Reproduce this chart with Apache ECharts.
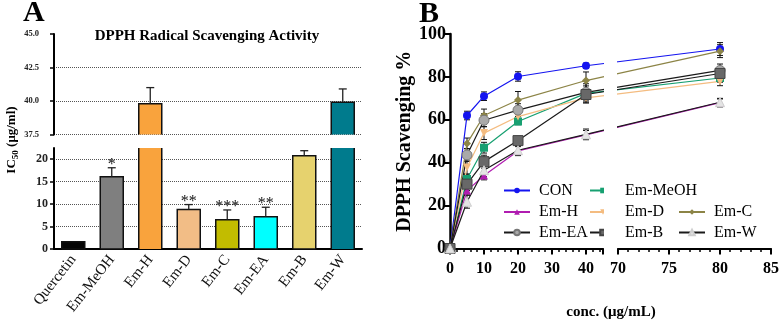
<!DOCTYPE html>
<html>
<head>
<meta charset="utf-8">
<script src="https://cdn.jsdelivr.net/npm/echarts@6/dist/echarts.min.js"></script>
<style>
  html, body { margin: 0; padding: 0; background: #fff; }
  #chart { width: 782px; height: 325px; }
</style>
</head>
<body>
<div id="chart"></div>
<script>
// ---- panel A : IC50 bars ----
const extracts = ['Quercetin', 'Em-MeOH', 'Em-H', 'Em-D', 'Em-C', 'Em-EA', 'Em-B', 'Em-W'];
const ic50 = [1.6, 16.1, 39.8, 8.8, 6.5, 7.2, 20.8, 39.9];
const ic50Sd = [0, 2.0, 1.2, 1.1, 2.2, 2.1, 1.1, 1.0];
const sigMarks = ['', '*', '', '**', '***', '**', '', ''];
const barColors = ['#060606', '#7f7f7f', '#f9a33d', '#f2bd86', '#c2bc00', '#00ffff', '#e6d26e', '#007b8d'];
const lowRange = [0, 22.5];
const highRange = [37.5, 45];

// ---- panel B : scavenging curves ----
const conc = [0, 5, 10, 20, 40, 80];
const concSeg1 = [0, 45];
const concSeg2 = [70, 85];
const curveNames = ['CON', 'Em-MeOH', 'Em-H', 'Em-D', 'Em-C', 'Em-EA', 'Em-B', 'Em-W'];
const con    = [0, 62.0, 71.0, 80.2, 85.2, 93.0];
const emMeOH = [0, 32.4, 47.0, 59.2, 72.3, 79.5];
const emH    = [0, 27.0, 34.0, 45.5, 53.0, 68.0];
const emD    = [0, 37.8, 53.8, 61.5, 70.2, 77.9];
const emC    = [0, 49.0, 62.0, 69.2, 78.3, 92.0];
const emEA   = [0, 43.6, 59.8, 64.5, 72.8, 83.0];
const emB    = [0, 30.0, 40.5, 50.3, 71.8, 81.6];
const emW    = [0, 21.8, 36.5, 45.8, 53.2, 68.2];
const conSd    = [0, 2.0, 2.0, 2.2, 1.2, 3.0];
const emMeOHSd = [0, 2.0, 2.5, 1.5, 2.0, 2.0];
const emHSd    = [0, 2.0, 2.0, 2.0, 2.0, 2.0];
const emDSd    = [0, 3.0, 3.0, 2.0, 2.0, 2.0];
const emCSd    = [0, 2.5, 3.0, 4.0, 4.0, 3.0];
const emEASd   = [0, 3.0, 3.0, 3.0, 4.0, 3.0];
const emBSd    = [0, 3.0, 3.0, 2.0, 4.0, 3.0];
const emWSd    = [0, 3.0, 3.0, 2.5, 2.5, 1.5];
const curveVals = [con, emMeOH, emH, emD, emC, emEA, emB, emW];
const curveSds = [conSd, emMeOHSd, emHSd, emDSd, emCSd, emEASd, emBSd, emWSd];

const FONT = 'Liberation Serif';
const black = '#000';

// broken x axis of panel B: two segments drawn side by side
const B_LEFT = 450, B_TOP = 34, B_H = 214.5;
const W1 = 153, GAP = 15, W2 = 153;
function brk(c) {
  if (c <= concSeg1[1]) return (c - concSeg1[0]) * W1 / (concSeg1[1] - concSeg1[0]);
  return W1 + GAP + (c - concSeg2[0]) * W2 / (concSeg2[1] - concSeg2[0]);
}

const curveStyle = [
  { color: '#1414f0', symbol: 'circle', size: 8 },
  { color: '#17a071', symbol: 'rect', size: 8 },
  { color: '#b01cb0', symbol: 'triangle', size: 8 },
  { color: '#f4bc80', symbol: 'triangle', size: 8, rotate: 180 },
  { color: '#8c8446', symbol: 'diamond', size: 8 },
  { color: '#1a1a1a', symbol: 'circle', size: 10, fill: '#a9a9a9', border: '#777' },
  { color: '#1a1a1a', symbol: 'rect', size: 10, fill: '#686868', border: '#444' },
  { color: '#1a1a1a', symbol: 'triangle', size: 9, fill: '#e4e4e4', border: '#cfcfcf' }
];

const chart = echarts.init(document.getElementById('chart'));
const BAR_W = 23;

// bar outline: open on the side where the axis is broken
function barEdge(range) {
  return function (params, api) {
    const i = api.value(0);
    const v = ic50[i];
    if (v < range[0]) return;
    const cutTop = v > range[1];
    const cutBottom = range[0] > 0;
    const topPt = api.coord([i, Math.min(v, range[1])]);
    const basePt = api.coord([i, range[0]]);
    const x0 = topPt[0] - BAR_W / 2, x1 = topPt[0] + BAR_W / 2;
    const st = { stroke: '#111', lineWidth: 1.5, fill: null };
    if (cutTop) {
      return { type: 'group', children: [
        { type: 'line', shape: { x1: x0, y1: basePt[1], x2: x0, y2: topPt[1] }, style: st },
        { type: 'line', shape: { x1: x1, y1: basePt[1], x2: x1, y2: topPt[1] }, style: st }
      ] };
    }
    const pts = [[x0, basePt[1]], [x0, topPt[1]], [x1, topPt[1]], [x1, basePt[1]]];
    if (!cutBottom) pts.push([x0, basePt[1]]);
    return { type: 'polyline', shape: { points: pts }, style: st };
  };
}

function barErr(range) {
  return function (params, api) {
    const i = api.value(0);
    const v = ic50[i], sd = ic50Sd[i];
    if (v < range[0] || v > range[1]) return;
    const base = api.coord([i, v]);
    const top = api.coord([i, v + sd]);
    const kids = [];
    if (sd > 0) {
      kids.push({ type: 'line', shape: { x1: base[0], y1: base[1], x2: top[0], y2: top[1] }, style: { stroke: '#222', lineWidth: 1.3 } });
      kids.push({ type: 'line', shape: { x1: top[0] - 4, y1: top[1], x2: top[0] + 4, y2: top[1] }, style: { stroke: '#222', lineWidth: 1.3 } });
    }
    if (sigMarks[i]) {
      kids.push({ type: 'text', x: top[0], y: top[1] - 3,
        style: { text: sigMarks[i], align: 'center', verticalAlign: 'middle', fill: '#111', fontSize: 16, fontFamily: FONT } });
    }
    return { type: 'group', children: kids };
  };
}

function curveErr(params, api) {
  const x = api.value(0), y = api.value(1), sd = api.value(2);
  if (!sd) return;
  const hi = api.coord([x, y + sd]);
  const lo = api.coord([x, y - sd]);
  const st = { stroke: '#111', lineWidth: 1 };
  return { type: 'group', children: [
    { type: 'line', shape: { x1: hi[0], y1: hi[1], x2: lo[0], y2: lo[1] }, style: st },
    { type: 'line', shape: { x1: hi[0] - 3, y1: hi[1], x2: hi[0] + 3, y2: hi[1] }, style: st },
    { type: 'line', shape: { x1: lo[0] - 3, y1: lo[1], x2: lo[0] + 3, y2: lo[1] }, style: st }
  ] };
}

const errData = [];
curveVals.forEach((vals, s) => {
  vals.forEach((v, k) => errData.push([brk(conc[k]), v, curveSds[s][k]]));
});

const legendSlots = [
  ['CON', 498, 186.5], ['Em-MeOH', 584, 186.5],
  ['Em-H', 498, 208], ['Em-D', 584, 208], ['Em-C', 673, 208],
  ['Em-EA', 498, 228.5], ['Em-B', 584, 228.5], ['Em-W', 673, 228.5]
];

const option = {
  animation: false,
  backgroundColor: '#fff',
  textStyle: { fontFamily: FONT },
  grid: [
    { left: 54, top: 34, width: 308, height: 100.5 },
    { left: 54, top: 148, width: 308, height: 101 },
    { left: B_LEFT, top: B_TOP, width: W1 + GAP + W2, height: B_H },
    { left: B_LEFT, top: B_TOP, width: W1, height: B_H },
    { left: B_LEFT + W1 + GAP, top: B_TOP, width: W2, height: B_H }
  ],
  xAxis: [
    { type: 'category', gridIndex: 0, data: extracts, show: false },
    { type: 'category', gridIndex: 1, data: extracts,
      axisLine: { lineStyle: { color: black, width: 2 } },
      axisTick: { alignWithLabel: true, length: 4, lineStyle: { color: black, width: 1.5 } },
      axisLabel: { rotate: 52, margin: 8, color: '#111', fontSize: 15, fontFamily: FONT } },
    { type: 'value', gridIndex: 2, min: 0, max: W1 + GAP + W2, show: false },
    { type: 'value', gridIndex: 3, min: concSeg1[0], max: concSeg1[1], interval: 10,
      axisLine: { lineStyle: { color: black, width: 2 } },
      axisTick: { length: 6, lineStyle: { color: black, width: 2 } },
      minorTick: { show: true, splitNumber: 5, length: 3.5, lineStyle: { color: black, width: 1.5 } },
      splitLine: { show: false },
      axisLabel: { showMaxLabel: false, margin: 12, color: black, fontSize: 16, fontWeight: 'bold', fontFamily: FONT } },
    { type: 'value', gridIndex: 4, min: concSeg2[0], max: concSeg2[1], interval: 5,
      axisLine: { lineStyle: { color: black, width: 2 } },
      axisTick: { length: 6, lineStyle: { color: black, width: 2 } },
      minorTick: { show: true, splitNumber: 5, length: 3.5, lineStyle: { color: black, width: 1.5 } },
      splitLine: { show: false },
      axisLabel: { margin: 12, color: black, fontSize: 16, fontWeight: 'bold', fontFamily: FONT } }
  ],
  yAxis: [
    { type: 'value', gridIndex: 0, min: highRange[0], max: highRange[1], interval: 2.5,
      axisLine: { show: true, lineStyle: { color: black, width: 2 } },
      axisTick: { show: true, length: 4, lineStyle: { color: black, width: 1.5 } },
      splitLine: { show: true, showMaxLine: false, lineStyle: { color: '#555', type: 'dotted', width: 1 } },
      axisLabel: { margin: 15, color: '#222', fontSize: 8.5, fontWeight: 'bold', fontFamily: FONT, formatter: v => v.toFixed(1) } },
    { type: 'value', gridIndex: 1, min: lowRange[0], max: lowRange[1], interval: 5,
      axisLine: { show: true, lineStyle: { color: black, width: 2 } },
      axisTick: { show: true, length: 4, lineStyle: { color: black, width: 1.5 } },
      splitLine: { show: true, showMinLine: false, showMaxLine: false, lineStyle: { color: '#555', type: 'dotted', width: 1 } },
      axisLabel: { showMaxLabel: false, margin: 6, color: '#222', fontSize: 12, fontWeight: 'bold', fontFamily: FONT } },
    { type: 'value', gridIndex: 2, min: 0, max: 100, interval: 20,
      axisLine: { show: true, lineStyle: { color: black, width: 2.5 } },
      axisTick: { show: true, length: 6, lineStyle: { color: black, width: 2 } },
      splitLine: { show: false },
      axisLabel: { margin: 4, color: black, fontSize: 18, fontWeight: 'bold', fontFamily: FONT },
      name: 'DPPH Scavenging %', nameLocation: 'middle', nameRotate: 90, nameGap: 29,
      nameTextStyle: { color: black, fontSize: 20, fontWeight: 'bold', fontFamily: FONT } },
    { type: 'value', gridIndex: 3, min: 0, max: 100, show: false },
    { type: 'value', gridIndex: 4, min: 0, max: 100, show: false }
  ],
  legend: legendSlots.map(([name, x, y]) => ({
    data: [name], left: x, top: y - 9, itemWidth: 26, itemHeight: 7, selectedMode: false,
    textStyle: { color: black, fontSize: 16, fontFamily: FONT, padding: [0, 0, 0, 4] }
  })),
  graphic: [
    { type: 'text', x: 23, y: 13, style: { text: 'A', fontSize: 30, fontWeight: 'bold', fontFamily: FONT, fill: black, align: 'left', verticalAlign: 'middle' } },
    { type: 'text', x: 419, y: 14, style: { text: 'B', fontSize: 30, fontWeight: 'bold', fontFamily: FONT, fill: black, align: 'left', verticalAlign: 'middle' } },
    { type: 'text', x: 207, y: 36, style: { text: 'DPPH Radical Scavenging Activity', fontSize: 15, fontWeight: 'bold', fontFamily: FONT, fill: black, align: 'center', verticalAlign: 'middle' } },
    { type: 'text', x: 12, y: 140, rotation: Math.PI / 2,
      style: { text: '{b|IC}{s|50}{b| (μg/ml)}', align: 'center', verticalAlign: 'middle', fill: black,
        rich: { b: { fontSize: 13, fontWeight: 'bold', fontFamily: FONT, fill: black, lineHeight: 16, verticalAlign: 'middle' },
                s: { fontSize: 9, fontWeight: 'bold', fontFamily: FONT, fill: black, lineHeight: 16, verticalAlign: 'bottom', padding: [4, 0, 0, 0] } } } },
    { type: 'text', x: 611, y: 312, style: { text: 'conc. (μg/mL)', fontSize: 15, fontWeight: 'bold', fontFamily: FONT, fill: black, align: 'center', verticalAlign: 'middle' } },
    // white gap where the x axis of panel B is broken
    { type: 'rect', z: 100, shape: { x: B_LEFT + W1 + 1, y: 25, width: GAP - 2, height: B_H + B_TOP - 27 }, style: { fill: '#fff' } }
  ],
  series: [
    { type: 'bar', xAxisIndex: 0, yAxisIndex: 0, barWidth: BAR_W,
      data: ic50.map((v, i) => ({ value: v >= highRange[0] ? v : '-', itemStyle: { color: barColors[i] } })) },
    { type: 'bar', xAxisIndex: 1, yAxisIndex: 1, barWidth: BAR_W,
      data: ic50.map((v, i) => ({ value: v, itemStyle: { color: barColors[i] } })) },
    { type: 'custom', xAxisIndex: 0, yAxisIndex: 0, renderItem: barEdge(highRange), data: extracts.map((c, i) => [i]), z: 4 },
    { type: 'custom', xAxisIndex: 1, yAxisIndex: 1, renderItem: barEdge(lowRange), data: extracts.map((c, i) => [i]), z: 4 },
    { type: 'custom', xAxisIndex: 0, yAxisIndex: 0, renderItem: barErr(highRange), data: extracts.map((c, i) => [i]), z: 5 },
    { type: 'custom', xAxisIndex: 1, yAxisIndex: 1, renderItem: barErr(lowRange), data: extracts.map((c, i) => [i]), z: 5 },
    { type: 'custom', xAxisIndex: 2, yAxisIndex: 2, renderItem: curveErr, data: errData, z: 1 }
  ].concat(curveNames.map((name, s) => {
    const st = curveStyle[s];
    return {
      type: 'line', name: name, xAxisIndex: 2, yAxisIndex: 2,
      data: curveVals[s].map((v, k) => [brk(conc[k]), v]),
      symbol: st.symbol, symbolSize: st.size, symbolRotate: st.rotate || 0,
      lineStyle: { color: st.color, width: 1.2 },
      itemStyle: { color: st.fill || st.color, borderColor: st.border || st.color, borderWidth: st.border ? 1 : 0 },
      clip: false, z: 3
    };
  }))
};

chart.setOption(option);
</script>
</body>
</html>
